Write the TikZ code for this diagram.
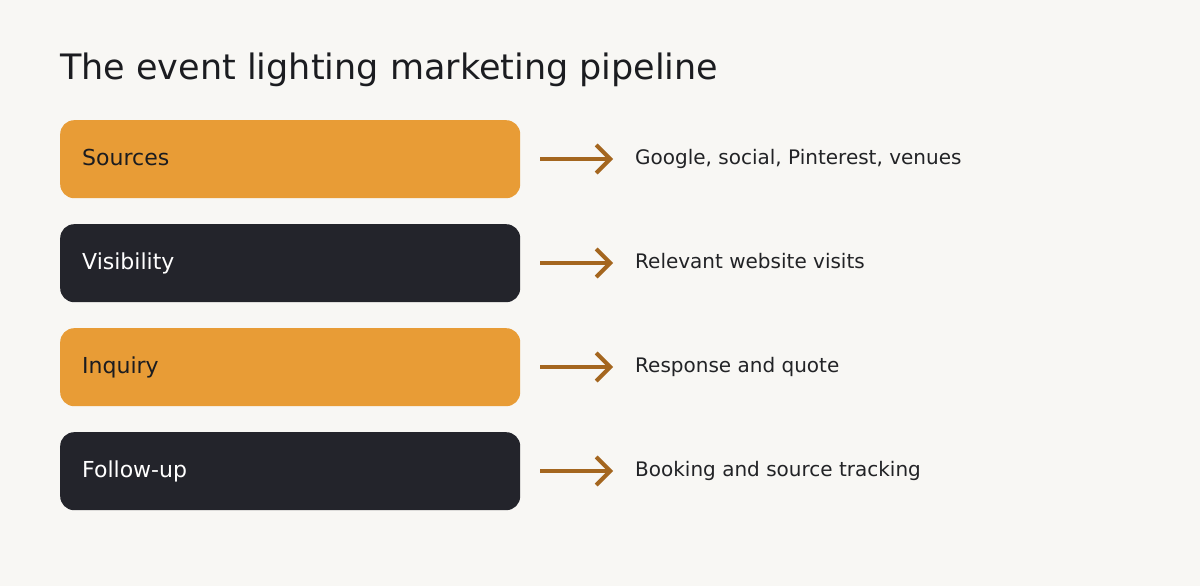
\documentclass[tikz,border=0pt]{standalone}
\usepackage{fontspec}
\setmainfont{DejaVu Sans}
\usetikzlibrary{arrows.meta}
\definecolor{bg}{HTML}{F8F7F4}
\definecolor{orng}{HTML}{E89C36}
\definecolor{dark}{HTML}{23242B}
\definecolor{arr}{HTML}{A4661F}
\definecolor{txt}{HTML}{222326}
\definecolor{ttl}{HTML}{1B1C20}
\tikzset{
  stage/.style={rounded corners=14pt, minimum width=460pt, minimum height=78pt, inner sep=0pt, anchor=north west},
  lightstage/.style={stage, fill=orng},
  darkstage/.style={stage, fill=dark},
  lbl/.style={anchor=base west, font=\fontsize{22pt}{26pt}\selectfont, inner sep=0pt},
  desc/.style={anchor=base west, font=\fontsize{20pt}{24pt}\selectfont, text=txt, inner sep=0pt},
  flow/.style={arr, line width=4pt, -{Straight Barb[length=14pt,width=28pt,line width=4pt]}}
}
\begin{document}
\begin{tikzpicture}[x=1pt,y=-1pt]
\fill[bg] (0,0) rectangle (1200,586);
\useasboundingbox (0,0) rectangle (1200,586);
\node[anchor=base west, inner sep=0pt, font=\fontsize{35pt}{42pt}\selectfont, text=ttl] (title) at (60,80) {The event lighting marketing pipeline};
\foreach \i/\name/\sty/\tc/\d in {0/Sources/lightstage/ttl/{Google, social, Pinterest, venues},1/Visibility/darkstage/white/{Relevant website visits},2/Inquiry/lightstage/ttl/{Response and quote},3/Follow-up/darkstage/white/{Booking and source tracking}}{
  \node[\sty] (b\i) at (60,120+104*\i) {};
  \node[lbl, text=\tc] (l\i) at (82,165+104*\i) {\name};
  \coordinate (s\i) at (540,159+104*\i);
  \coordinate (e\i) at (613,159+104*\i);
  \draw[flow] (s\i) -- (e\i);
  \node[desc] (d\i) at (635,164+104*\i) {\d};
}
\end{tikzpicture}
\end{document}
